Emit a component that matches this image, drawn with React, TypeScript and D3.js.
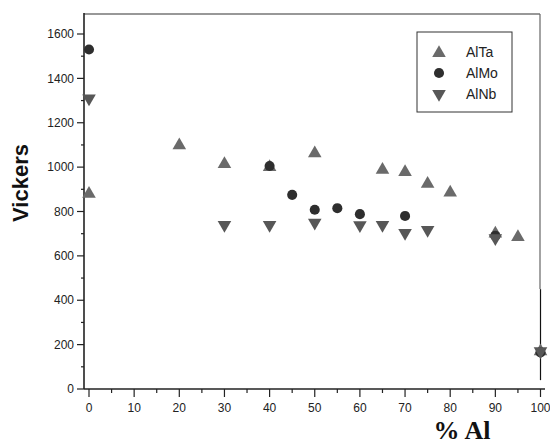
import React from "react";
import * as d3 from "d3";

const xTicks = [0, 10, 20, 30, 40, 50, 60, 70, 80, 90, 100];
const yTicks = [0, 200, 400, 600, 800, 1000, 1200, 1400, 1600];

const alTaX = [0, 20, 30, 40, 50, 65, 70, 75, 80, 90, 95, 100];
const alTaY = [880, 1098, 1014, 1000, 1062, 988, 978, 925, 885, 700, 685, 170];

const alMoX = [0, 40, 45, 50, 55, 60, 70, 90, 100];
const alMoY = [1530, 1005, 875, 808, 815, 788, 780, 690, 165];

const alNbX = [0, 30, 40, 50, 60, 65, 70, 75, 90, 100];
const alNbY = [1310, 740, 740, 750, 738, 740, 703, 717, 680, 170];

const errX = [100];
const errLow = [40];
const errHigh = [450];

export default function App() {
  const W = 550, H = 445;
  const x = d3.scaleLinear().domain([0, 100]).range([89, 540.5]);
  const y = d3.scaleLinear().domain([0, 1600]).range([389, 34]);
  const x0 = 84, yb = 389, yTop = 14, xRight = 540;

  const tri = d3.symbol().type(d3.symbolTriangle).size(80)();
  const circ = d3.symbol().type(d3.symbolCircle).size(80)();

  const xMinor = d3.range(5, 100, 10);
  const yMinor = d3.range(100, 1700, 200);

  const font = "'Liberation Sans', Arial, sans-serif";
  const cTa = "#6a6a6a", cMo = "#2e2e2e", cNb = "#575757";

  return (
    <svg width={W} height={H} style={{ position: "absolute", left: 0, top: 0, background: "#fff" }}>
      {/* frame */}
      <line x1={x0} x2={xRight} y1={yTop} y2={yTop} stroke="#333" strokeWidth={1.2} />
      <line x1={xRight} x2={xRight} y1={yTop} y2={289} stroke="#666" strokeWidth={1.2} />
      <line x1={x0} x2={x0} y1={yTop - 1} y2={yb} stroke="#222" strokeWidth={1.6} />
      <line x1={x0} x2={545} y1={yb} y2={yb} stroke="#222" strokeWidth={1.6} />

      {/* y ticks */}
      {yTicks.map((t) => (
        <g key={"yt" + t}>
          <line x1={77} x2={x0} y1={y(t)} y2={y(t)} stroke="#222" strokeWidth={1.2} />
          <text x={74} y={y(t)} dy="0.35em" textAnchor="end" fontFamily={font} fontSize={12} fill="#222">
            {t}
          </text>
        </g>
      ))}
      {yMinor.map((t) => (
        <line key={"ym" + t} x1={81} x2={x0} y1={y(t)} y2={y(t)} stroke="#222" strokeWidth={1.2} />
      ))}

      {/* x ticks */}
      {xTicks.map((t) => (
        <g key={"xt" + t}>
          <line x1={x(t)} x2={x(t)} y1={yb} y2={397} stroke="#222" strokeWidth={1.2} />
          <text x={x(t)} y={408} dy="0.35em" textAnchor="middle" fontFamily={font} fontSize={12} fill="#222">
            {t}
          </text>
        </g>
      ))}
      {xMinor.map((t) => (
        <line key={"xm" + t} x1={x(t)} x2={x(t)} y1={yb} y2={393} stroke="#222" strokeWidth={1.2} />
      ))}

      {/* error bar */}
      {errX.map((v, i) => (
        <line key={"e" + i} x1={x(v)} x2={x(v)} y1={y(errLow[i])} y2={y(errHigh[i])} stroke="#111" strokeWidth={1.2} />
      ))}

      {/* AlTa */}
      {alTaX.map((v, i) => (
        <path key={"ta" + i} d={tri} transform={`translate(${x(v)},${y(alTaY[i])})`} fill={cTa} />
      ))}
      {/* AlMo */}
      {alMoX.map((v, i) => (
        <path key={"mo" + i} d={circ} transform={`translate(${x(v)},${y(alMoY[i])})`} fill={cMo} />
      ))}
      {/* AlNb */}
      {alNbX.map((v, i) => (
        <path key={"nb" + i} d={tri} transform={`translate(${x(v)},${y(alNbY[i])}) rotate(180)`} fill={cNb} />
      ))}

      {/* legend */}
      <rect x={417} y={32} width={95} height={80} fill="#fff" stroke="#333" strokeWidth={1} />
      <path d={tri} transform="translate(439,53)" fill={cTa} />
      <path d={circ} transform="translate(439,73)" fill={cMo} />
      <path d={tri} transform="translate(439,94) rotate(180)" fill={cNb} />
      <text x={466} y={52} dy="0.35em" fontFamily={font} fontSize={14} fill="#222">AlTa</text>
      <text x={466} y={73} dy="0.35em" fontFamily={font} fontSize={14} fill="#222">AlMo</text>
      <text x={466} y={94} dy="0.35em" fontFamily={font} fontSize={14} fill="#222">AlNb</text>

      {/* axis titles */}
      <text
        transform="translate(28,183) rotate(-90)"
        textAnchor="middle"
        fontFamily={font}
        fontWeight="bold"
        fontSize={22}
        fill="#111"
      >
        Vickers
      </text>
      <text x={462} y={439} textAnchor="middle" fontFamily="'Liberation Serif', 'Times New Roman', serif" fontWeight="bold" fontSize={26} fill="#111">
        % Al
      </text>
    </svg>
  );
}
